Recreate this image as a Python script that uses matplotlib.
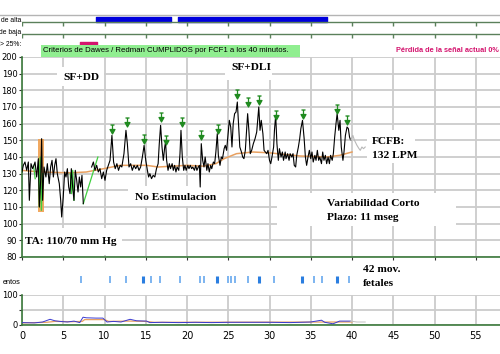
import numpy as np
import matplotlib
matplotlib.use("Agg")
import matplotlib.pyplot as plt
from matplotlib.patches import Rectangle
from matplotlib.path import Path

nan = np.nan

# fetal heart rate trace (minutes, bpm)
fhr_t = [0, 0.16, 0.36, 0.57, 0.77, 0.89, 1.09, 1.29, 1.45, 1.58, 1.78, 1.98, 2.1, 2.26, 2.38,
         2.5, 2.67, 2.9, 3.07, 3.3, 3.47, 3.64, 3.8, 3.96, 4.12, 4.28, 4.52, 4.69, 4.81, 5.0,
         5.17, 5.33, 5.5, 5.66, 5.82, 5.98, 6.14, 6.3, 6.46, 6.63, 6.79, 6.95, 7.11, 7.27, 7.43,
         nan,
         8.44, 8.65, 8.85, 9.05, 9.25, 9.45, 9.66, 9.86, 10.06, 10.26, 10.46, 10.67, 10.9, 11.1,
         11.3, 11.5, 11.7, 11.9, 12.1, 12.36, 12.6, 12.77, 12.97, 13.17, 13.37, 13.58, 13.78,
         13.98, 14.18, 14.38, 14.59, 14.8, 15.0, 15.2, 15.35, 15.5, 15.7, 15.9, 16.1, 16.3, 16.5,
         16.64, 16.8, 16.97, 17.13, 17.3, 17.4, 17.53, 17.7, 17.86, 18.0, 18.2, 18.34, 18.5,
         18.66, 18.8, 19.0, 19.15, 19.27, 19.43, 19.6, 19.75, 19.9, 20.1, 20.24, 20.4, 20.56,
         20.7, 20.9, 21.05, 21.2, 21.37, 21.5, 21.6, 21.73, 21.9, 22.06, 22.2, 22.4, 22.54, 22.7,
         22.87, 23.0, 23.2, 23.35, 23.5, 23.67, 23.8, 24.0, 24.16, 24.3, 24.5, 24.64, 24.8,
         24.97, 25.13, 25.3, 25.45, 25.6, 25.77, 25.94, 26.1, 26.26, 26.4, 26.6, 26.75, 26.9,
         27.07, 27.23, 27.35, 27.5, 27.67, 27.84, 28.04, 28.25, 28.45, 28.7, 28.85, 29.0, 29.2,
         29.34, 29.5, 29.66, 29.82, 30.0, 30.15, 30.3, 30.5, 30.6, 30.75, 30.9, 31.07, 31.2,
         31.4, 31.56, 31.7, 31.9, 32.0, 32.2, 32.37, 32.5, 32.7, 32.85, 33.0, 33.17, 33.3, 33.5,
         33.66, 33.8, 34.0, 34.2, 34.35, 34.5, 34.67, 34.83, 35.0, 35.15, 35.3, 35.5, 35.64,
         35.8, 35.96, 36.1, 36.3, 36.45, 36.6, 36.77, 36.93, 37.1, 37.26, 37.4, 37.6, 37.74,
         37.9, 38.06, 38.2, 38.4, 38.55, 38.7, 38.9, 39.03, 39.2, 39.4, 39.56, 39.7, 39.84]
fhr_v = [131, 135, 137, 132, 137, 114, 136, 133, 135, 137, 128, 139, 110, 126, 151,
         114, 134, 128, 136, 124, 134, 138, 128, 135, 139, 130, 124, 114, 104, 116,
         131, 128, 133, 122, 118, 133, 122, 114, 132, 126, 119, 128, 122, 129, 112,
         nan,
         134, 137, 132, 135, 131, 133, 127, 131, 126, 132, 135, 138, 153, 137,
         133, 136, 132, 135, 134, 142, 156, 148, 134, 136, 132, 135, 133,
         135, 132, 134, 140, 147, 138, 132, 128, 130, 127, 129, 128, 133, 136,
         148, 159, 146, 138, 146, 149, 138, 132, 136, 133, 136, 132, 135,
         131, 134, 132, 142, 156, 140, 132, 135, 132, 135, 133, 135, 133,
         134, 132, 135, 132, 134, 135, 122, 148, 138, 134, 140, 132, 136, 131,
         135, 133, 137, 136, 143, 154, 141, 135, 140, 139, 145, 147, 144,
         153, 162, 158, 146, 160, 166, 167, 173, 158, 146, 143, 140, 139,
         144, 156, 166, 156, 142, 144, 148, 151, 155, 170, 156, 162, 154,
         144, 143, 142, 144, 138, 136, 140, 146, 156, 165, 148, 138, 145,
         140, 143, 138, 143, 139, 142, 138, 142, 140, 142, 135, 134, 141, 146,
         151, 157, 162, 151, 140, 135, 140, 144, 139, 143, 137, 141, 138,
         144, 138, 140, 136, 143, 138, 141, 136, 140, 136, 141, 138, 142,
         152, 160, 166, 156, 162, 146, 138, 143, 153, 158, 157, 152, 150]

# current (not yet validated) part of the trace
tail_t = [39.84, 40.1, 40.3, 40.6, 40.85, 41.0, 41.2, 41.4, 41.6]
tail_v = [150, 153, 150, 147, 145, 144, 146, 145, 146]

# signal loss joins
gap_t = [1.4, 1.6, nan, 2.0, 2.1, 2.2, 2.35, 2.5, nan, 5.85, 6.0, 6.15, 6.3, nan, 7.43, 9.2]
gap_v = [135, 127, nan, 137, 110, 140, 108, 130, nan, 130, 118, 132, 114, nan, 112, 140]

# baseline
base_t = [0, 2.2, 5.8, 7.8, 9.9, 11.9, 15.1, 16.5, 20, 22, 23.5, 24.5, 26, 28, 30, 33.7, 37, 38.5, 40]
base_v = [132, 131, 130.5, 131, 133, 135, 135, 134, 135, 134.5, 136, 139, 142, 143, 142.5, 140.6, 140, 141, 143]

# accelerations (marker centre)
acc_t = [10.9, 12.7, 14.8, 16.8, 17.4, 19.35, 21.7, 23.7, 26.1, 27.4, 28.7, 30.75, 34.1, 38.2, 39.4]
acc_v = [157, 161, 151, 164, 150, 161, 153, 157, 178, 173, 174, 165, 166, 169, 162]

# artefact band
art_t = [1.94, 2.67]
art_lo = 107
art_hi = 151

# high / low variability episodes, signal loss
alta_start = [8.97, 18.9]
alta_end = [18.06, 36.97]
loss_start = [7.03]
loss_end = [9.09]

# fetal movements
mov_t = [7.15, 10.67, 12.6, 14.67, 15.6, 16.7, 19.15, 21.6, 22.06, 23.6, 24.97, 25.3, 25.8,
         27.4, 28.7, 30.5, 33.9, 35.4, 36.4, 38.2, 39.6]
mov_strong = [14.67, 23.6, 28.7, 33.9, 38.2]

# uterine activity
toco_t = [0, 1.5, 2.5, 3.4, 4.0, 4.6, 5.5, 6.3, 7.0, 7.4, 7.8, 9.0, 9.8, 10.3, 11.1, 12.0, 13.1,
          13.9, 15.1, 15.5, 17, 19, 21, 23, 25, 27.6, 30.1, 32.5, 35, 36.3, 36.7, 37.7, 38.5, 39.8]
toco_v = [8, 7, 10, 19, 14, 12, 10, 13, 8, 26, 24, 23, 23, 10, 12, 10, 19,
          14, 13, 8, 9, 8, 9, 8, 9, 9, 9, 8, 10, 16, 9, 4, 13, 13]
toco_tail_t = [39.8, 40.6, 41.6]
toco_tail_v = [13, 10, 10]
toco_base_t = [0, 3, 4, 6, 7.3, 7.6, 10, 10.5, 13, 15, 16, 40]
toco_base_v = [7, 9, 12, 11, 12, 18, 18, 12, 13, 12, 9, 10]

W, H = 500, 354
X0 = 22
PX_PER_MIN = 8.25
T_MAX = (W - X0) / PX_PER_MIN
GRID = '#cccccc'
AXIS_GREEN = '#3c7a3c'
SERIF = 'Liberation Serif'
UI = 'Liberation Sans'


def fx(x):
    return x / W


def fy(y):
    return 1 - y / H


def white_box(ax, x1, y1, x2, y2):
    ax.add_patch(Rectangle((fx(x1), fy(y2)), (x2 - x1) / W, (y2 - y1) / H,
                           transform=ax.figure.transFigure, fc='white', ec='none', zorder=1))


def label(x, y, s, **kw):
    fig.text(fx(x), fy(y), s, va='center', **kw)


fig = plt.figure(figsize=(W / 100, H / 100), dpi=100)

# --- top strips ---
top = fig.add_axes([fx(X0), fy(50), (W - X0) / W, 40 / H])
top.set_xlim(0, T_MAX)
top.set_ylim(50, 10)
top.axis('off')
ticks5 = np.arange(0, 56, 5)
top.plot([-X0 / PX_PER_MIN, T_MAX], [14.7, 14.7], color='#b4b4b4', lw=1, clip_on=False)
for yl in (22, 34):
    top.plot([0, T_MAX], [yl, yl], color='#5b805b', lw=1)
    top.vlines(ticks5, yl, yl + 4, color='#5b805b', lw=1)
top.broken_barh([(s, e - s) for s, e in zip(alta_start, alta_end)], (17, 5), color='#0000dd')
top.broken_barh([(s, e - s) for s, e in zip(loss_start, loss_end)], (42, 4), color='#d4146e')

label(21.5, 20, 'de alta', ha='right', fontsize=4.9, family=UI)
label(21.5, 33, 'de baja', ha='right', fontsize=4.9, family=UI)
label(21.5, 44, '> 25%:', ha='right', fontsize=4.9, family=UI)

fig.add_artist(Rectangle((fx(41), fy(57)), 259 / W, 12 / H, transform=fig.transFigure,
                         fc='#90ee90', ec='none', zorder=5))
fig.text(fx(43), fy(51), 'Criterios de Dawes / Redman CUMPLIDOS por FCF1 a los 40 minutos.',
         va='center', fontsize=5.6, family=UI, zorder=6)
label(499, 51, 'Pérdida de la señal actual 0%', ha='right', fontsize=5.3,
      weight='bold', color='#d4146e', family=UI)

# --- main FHR panel ---
ax = fig.add_axes([fx(X0), fy(257), (W - X0) / W, 200 / H])
ax.set_xlim(0, T_MAX)
ax.set_ylim(80, 200)
ax.set_xticks(ticks5)
ax.set_xticklabels([])
ax.set_yticks(np.arange(80, 201, 10))
ax.grid(True, color=GRID, lw=1.3)
ax.set_axisbelow(True)
for s in ('top', 'right'):
    ax.spines[s].set_visible(False)
for s in ('left', 'bottom'):
    ax.spines[s].set_color(AXIS_GREEN)
    ax.spines[s].set_linewidth(1.2)
ax.tick_params(axis='both', length=2.5, color='#333333', labelsize=6, pad=0.8)

white_box(ax, 57, 67, 104, 86)
white_box(ax, 225, 58, 272, 80)
white_box(ax, 128, 186, 227, 206)
white_box(ax, 277, 193, 456, 226)
white_box(ax, 367, 130, 415, 163)
white_box(ax, 23, 228, 122, 255)

ax.fill_between(art_t, art_lo, art_hi, color='#f0a050', alpha=0.9, lw=0, zorder=1.8)
ax.plot(base_t, base_v, color='#e8a060', lw=1.1, zorder=2)
ax.plot(gap_t, gap_v, color='#40d040', lw=0.9, zorder=2.2)
ax.plot(fhr_t, fhr_v, color='black', lw=0.8, zorder=3)
ax.plot(tail_t, tail_v, color='#b8b8b8', lw=0.8, zorder=3)

arrow = Path([(-0.45, 1), (0.45, 1), (0, 1), (0, 0), (-0.55, 0), (0.55, 0), (0, -1), (-0.55, 0)],
             [Path.MOVETO, Path.LINETO, Path.MOVETO, Path.LINETO,
              Path.MOVETO, Path.LINETO, Path.LINETO, Path.CLOSEPOLY])
ax.plot(acc_t, acc_v, ls='none', marker=arrow, ms=6.5, color='#1f8a1f', mew=0.9, zorder=4)

ann = dict(family=SERIF, weight='bold', fontsize=8.2)
label(81, 77, 'SF+DD', ha='center', **ann)
label(251, 67, 'SF+DLI', ha='center', **ann)
label(135, 197, 'No Estimulacion', **ann)
label(327, 204, 'Variabilidad Corto', **ann)
label(327, 218, 'Plazo: 11 mseg', **ann)
label(372, 141, 'FCFB:', **ann)
label(372, 156, '132 LPM', **ann)
label(25, 241, 'TA: 110/70 mm Hg', **ann)
label(363, 270, '42 mov.', **ann)
label(363, 283, 'fetales', **ann)

# --- fetal movements ---
mv = fig.add_axes([fx(X0), fy(290), (W - X0) / W, 20 / H])
mv.set_xlim(0, T_MAX)
mv.set_ylim(290, 270)
mv.axis('off')
thin = [t for t in mov_t if t not in mov_strong]
mv.vlines(thin, 276, 283, color='#5aa0ec', lw=1.1)
mv.vlines(mov_strong, 276, 283, color='#2a7ee0', lw=2.2)
label(21, 282, 'entos', ha='right', fontsize=5.3, family=UI)

# --- uterine activity ---
toc = fig.add_axes([fx(X0), fy(325), (W - X0) / W, 30 / H])
toc.set_xlim(0, T_MAX)
toc.set_ylim(0, 100)
toc.set_xticks(ticks5)
toc.set_yticks([0, 50, 100])
toc.set_yticklabels(['0', '', '100'])
toc.grid(True, color=GRID, lw=1.3)
toc.set_axisbelow(True)
for s in ('top', 'right'):
    toc.spines[s].set_visible(False)
for s in ('left', 'bottom'):
    toc.spines[s].set_color(AXIS_GREEN)
    toc.spines[s].set_linewidth(1.2)
toc.tick_params(axis='y', length=2.5, color='#333333', labelsize=6, pad=0.8)
toc.tick_params(axis='x', length=0, labelsize=7, pad=4)
toc.plot(toco_base_t, toco_base_v, color='#e8a060', lw=0.9, zorder=2)
toc.plot(toco_t, toco_v, color='#3a3ad0', lw=0.7, zorder=3)
toc.plot(toco_tail_t, toco_tail_v, color='#c0c0c0', lw=0.7, zorder=3)

fig.savefig('out.png', dpi=100)
